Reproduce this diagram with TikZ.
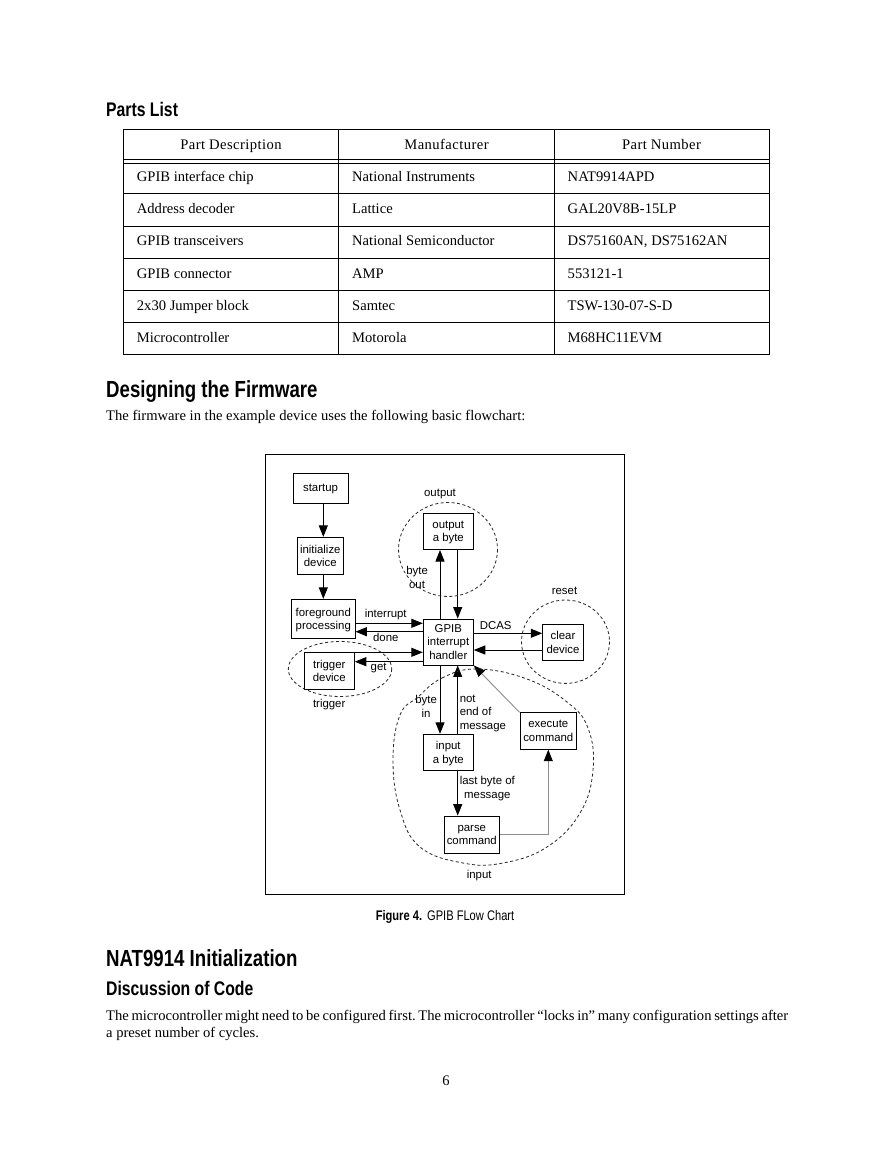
\documentclass[tikz,border=0pt]{standalone}
\usepackage{fontspec}
\setmainfont{Liberation Serif}
\newfontfamily\headfont[FakeStretch=0.8]{Liberation Sans}
\newfontfamily\chartfont{Liberation Sans}
\usetikzlibrary{arrows.meta,calc}

\begin{document}
\frenchspacing
\begin{tikzpicture}[
  x=1pt, y=-1pt,
  >={Triangle[length=11.5pt,width=9pt]},
  every node/.style={inner sep=0pt},
  body/.style={font=\fontsize{14.6}{17.5}\selectfont, anchor=base west},
  head/.style={font=\headfont\bfseries\fontsize{23.3}{28}\selectfont, anchor=base west},
  subhead/.style={font=\headfont\bfseries\fontsize{19.7}{24}\selectfont, anchor=base west},
  cell/.style={font=\fontsize{14.6}{17.5}\selectfont, anchor=base west},
  colhead/.style={font=\fontsize{14.6}{17.5}\selectfont\addfontfeature{LetterSpace=3}, anchor=base},
  box/.style={draw, line width=0.9pt, font=\chartfont\fontsize{11.4}{13.4}\selectfont,
    align=center, text depth=0pt, minimum width=50pt, minimum height=36.5pt},
  lbl/.style={font=\chartfont\fontsize{11.4}{13.4}\selectfont, align=center},
  flow/.style={->, line width=0.9pt},
  soft/.style={-{Triangle[length=11.5pt,width=9pt,color=black]}, line width=0.9pt, black!45},
  zone/.style={draw=black!85, line width=0.8pt, dash pattern=on 3pt off 2.5pt}
]
\fill[white] (0,0) rectangle (893,1155);
\useasboundingbox (0,0) rectangle (893,1155);

% Parts list
\node[subhead] (parts) at (106,117) {Parts List};
\draw[line width=1pt] (123.3,130) rectangle (769,354.5);
\draw[line width=1pt] (123.3,159.3) -- (769,159.3);
\draw[line width=1pt] (123.3,163.3) -- (769,163.3);
\foreach \yy in {194,226.5,258.8,290.8,322.5}
  \draw[line width=1pt] (123.3,\yy) -- (769,\yy);
\draw[line width=1pt] (338.3,130) -- (338.3,354.5);
\draw[line width=1pt] (554,130) -- (554,354.5);

\node[colhead] (hd) at (231,150) {Part Description};
\node[colhead] (hm) at (446.5,150) {Manufacturer};
\node[colhead] (hn) at (661.5,150) {Part Number};

\node[cell] (d1) at (136.7,181.5) {GPIB interface chip};
\node[cell] (m1) at (352,181.5) {National Instruments};
\node[cell] (n1) at (567.5,181.5) {NAT9914APD};
\node[cell] (d2) at (136.7,213.7) {Address decoder};
\node[cell] (m2) at (352,213.7) {Lattice};
\node[cell] (n2) at (567.5,213.7) {GAL20V8B-15LP};
\node[cell] (d3) at (136.7,245.9) {GPIB transceivers};
\node[cell] (m3) at (352,245.9) {National Semiconductor};
\node[cell] (n3) at (567.5,245.9) {DS75160AN, DS75162AN};
\node[cell] (d4) at (136.7,278.1) {GPIB connector};
\node[cell] (m4) at (352,278.1) {AMP};
\node[cell] (n4) at (567.5,278.1) {553121-1};
\node[cell] (d5) at (136.7,310.3) {2x30 Jumper block};
\node[cell] (m5) at (352,310.3) {Samtec};
\node[cell] (n5) at (567.5,310.3) {TSW-130-07-S-D};
\node[cell] (d6) at (136.7,342.5) {Microcontroller};
\node[cell] (m6) at (352,342.5) {Motorola};
\node[cell] (n6) at (567.5,342.5) {M68HC11EVM};

% Designing the firmware
\node[head] (design) at (106,397) {Designing the Firmware};
\node[body] (intro) at (106,420.5)
  {The firmware in the example device uses the following basic flowchart:};

% flow chart
\draw[line width=1pt] (265,454) rectangle (624,894);

\node[box, minimum width=55pt, minimum height=30pt] (start) at (320.5,488) {startup};
\node[box, minimum width=46pt, minimum height=36.7pt] (init) at (320.3,555.7) {initialize\\device};
\node[box, minimum width=63.3pt, minimum height=39pt] (fg) at (323.3,618.8) {foreground\\processing};
\node[box] (out) at (448.3,531.3) {output\\a byte};
\node[box, minimum height=46pt] (gpib) at (448.3,642) {GPIB\\interrupt\\handler};
\node[box, minimum width=40.6pt, minimum height=36.7pt] (clr) at (563,642.3) {clear\\device};
\node[box, minimum height=37pt] (trig) at (329.3,670.8) {trigger\\device};
\node[box, minimum height=36.4pt] (inp) at (448.3,752.5) {input\\a byte};
\node[box, minimum width=56.7pt] (exec) at (548.3,731) {execute\\command};
\node[box, minimum width=55pt, minimum height=37.3pt] (parse) at (471.8,834.7) {parse\\command};

\draw[flow] (fg.north |- start.south) -- (fg.north |- init.north);
\draw[flow] (init.south -| fg.north) -- (fg.north);

\draw[flow] ([yshift=-4.5pt]fg.east) -- ([yshift=-4.5pt]fg.east -| gpib.west)
  node[lbl, pos=0.45, above=3pt] {interrupt};
\draw[flow] ([yshift=-12.9pt]fg.east -| gpib.west) -- ([yshift=-12.9pt]fg.east)
  node[lbl, pos=0.55, below=1pt] {done};

\draw[flow] ([yshift=-10.3pt]gpib.west -| trig.east) -- ([yshift=-10.3pt]gpib.west);
\draw[flow] ([yshift=-19.7pt]gpib.west) -- ([yshift=-19.7pt]gpib.west -| trig.east)
  node[lbl, pos=0.65, below=1pt] {get};

\draw[flow] ([xshift=-8.3pt]gpib.north) -- ([xshift=-8.3pt]out.south)
  node[lbl, pos=0.6, left=11.7pt] {byte\\out};
\draw[flow] ([xshift=9.4pt]out.south) -- ([xshift=9.4pt]gpib.north);

\draw[flow] ([yshift=8.7pt]gpib.east) -- ([yshift=8.7pt]gpib.east -| clr.west)
  node[lbl, pos=0.32, above=3.2pt] {DCAS};
\draw[flow] ([yshift=-8pt]gpib.east -| clr.west) -- ([yshift=-8pt]gpib.east);

\draw[flow] ([xshift=-8.3pt]gpib.south) -- ([xshift=-8.3pt]inp.north)
  node[lbl, pos=0.6, left=2.7pt] {byte\\in};
\draw[flow] ([xshift=9.4pt]inp.north) -- ([xshift=9.4pt]gpib.south)
  node[lbl, pos=0.3, right=1.6pt, align=left] {not\\end of\\message};
\draw[flow] ([xshift=9.4pt]inp.south) -- ([xshift=9.4pt]inp.south |- parse.north)
  node[lbl, pos=0.39, right=1.6pt] {last byte of\\message};

\draw[soft] (parse.east) -| (exec.south);
\draw[soft] (exec.north west) -- (gpib.south east);

% dashed groups
\draw[zone] (448,549.5) ellipse (49.5 and 47);
\draw[zone] (565.5,641.7) ellipse (44 and 41.7);
\draw[zone] (340,669) ellipse (51.7 and 27.5);
\draw[zone] plot[smooth cycle, tension=0.7] coordinates {
  (418,697) (442,678) (477,669) (527,679) (567,702) (588,728) (593,770)
  (580,813) (547,847) (503,863) (463,863) (420,847) (400,810) (393,760) (400,715)};

\node[lbl] (outz) at (440,494.3) {output};
\node[lbl] (rstz) at (564.5,590.7) {reset};
\node[lbl] (trgz) at (329.2,704.3) {trigger};
\node[lbl] (inz) at (479.2,876) {input};

\node[anchor=base, font=\headfont\fontsize{13.9}{16}\selectfont] (cap) at (445,920)
  {{\bfseries Figure 4.}\hspace{5pt}GPIB FLow Chart};

% NAT9914 initialization
\node[head] (nat) at (106,966.7) {NAT9914 Initialization};
\node[subhead] (disc) at (106,995) {Discussion of Code};
\node[body] (para1) at (106,1020) {\makebox[682pt][s]{The microcontroller might need
  to be configured first. The microcontroller ``locks in'' many configuration settings after}};
\node[body] (para2) at (106,1037) {a preset number of cycles.};

\node[body, anchor=base] (pg) at (446,1085) {6};
\end{tikzpicture}
\end{document}
